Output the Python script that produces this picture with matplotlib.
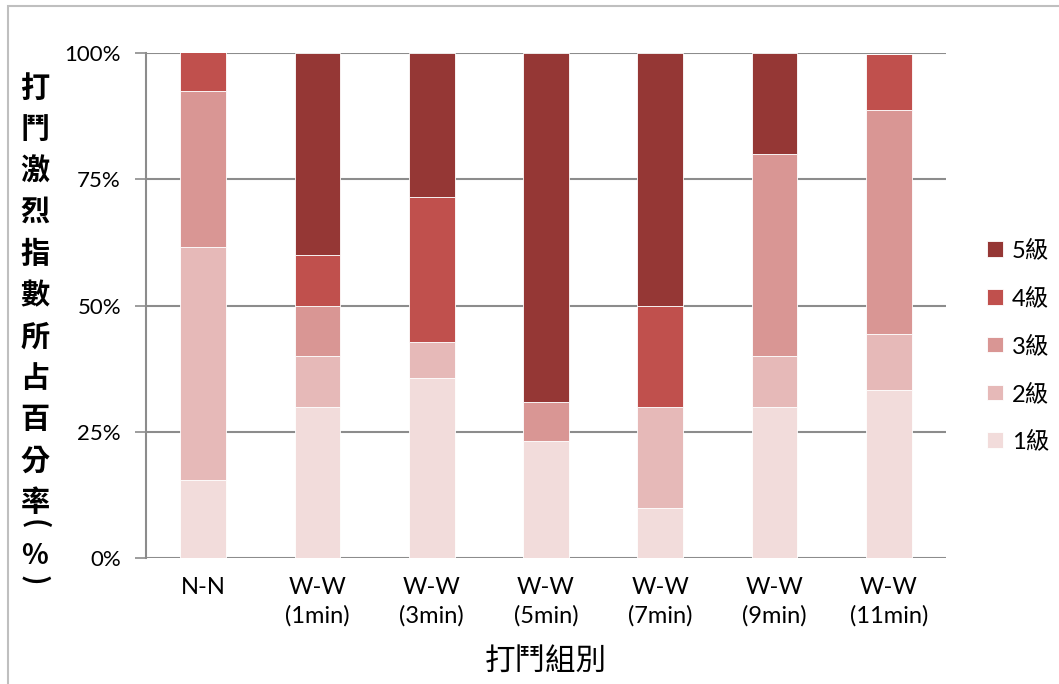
import matplotlib.pyplot as plt
import numpy as np
from matplotlib.patches import Rectangle

plt.rcParams['font.family'] = ['Lato', 'Noto Sans CJK TC', 'DejaVu Sans']

# 打鬥組別 / 各級百分比
groups = ["N-N", "W-W\n(1min)", "W-W\n(3min)", "W-W\n(5min)", "W-W\n(7min)", "W-W\n(9min)", "W-W\n(11min)"]
level1 = [15.4, 30.0, 35.7, 23.1, 10.0, 30.0, 33.3]
level2 = [46.2, 10.0, 7.1, 0.0, 20.0, 10.0, 11.1]
level3 = [30.8, 10.0, 0.0, 7.7, 0.0, 40.0, 44.4]
level4 = [7.7, 10.0, 28.6, 0.0, 20.0, 0.0, 11.1]
level5 = [0.0, 40.0, 28.6, 69.2, 50.0, 20.0, 0.0]
levels = ["1級", "2級", "3級", "4級", "5級"]
colors = ["#F2DCDB", "#E6B9B8", "#D99694", "#C0504D", "#953735"]
yticks = [0, 25, 50, 75, 100]

fig = plt.figure(figsize=(10.59, 6.84), dpi=100)
# chart frame
fig.patches.append(Rectangle((8 / 1059, -0.05), 1.1, 1 - 6 / 684 + 0.05,
                             transform=fig.transFigure, fill=False,
                             edgecolor="#BFBFBF", linewidth=1.5))
ax = fig.add_axes([146 / 1059, 1 - 558 / 684, 800 / 1059, 505 / 684])

x = np.arange(len(groups))
bottom = np.zeros(len(groups))
handles = []
for name, vals, c in zip(levels, [level1, level2, level3, level4, level5], colors):
    b = ax.bar(x, vals, width=0.4, bottom=bottom, color=c, edgecolor="white",
               linewidth=0.6, label=name, zorder=3)
    handles.append(b)
    bottom += np.array(vals)

ax.set_xlim(-0.5, len(groups) - 0.5)
ax.set_ylim(0, 100)
ax.set_yticks(yticks)
ax.set_yticklabels([f"{t}%" for t in yticks], fontsize=16)
ax.yaxis.grid(True, color="#8C8C8C", linewidth=1.5, zorder=0)
ax.set_axisbelow(True)
ax.set_xticks(x)
ax.set_xticklabels(groups, fontsize=17, linespacing=1.35)
ax.tick_params(axis="x", length=0, pad=14)
ax.tick_params(axis="y", length=8, color="#8C8C8C", width=1.2, pad=10)
for s in ["top", "right", "bottom"]:
    ax.spines[s].set_visible(False)
ax.spines["left"].set_color("#8C8C8C")
ax.spines["left"].set_linewidth(1.5)

ax.set_xlabel("打鬥組別", fontsize=22, family=["Noto Sans CJK TC"], labelpad=14)

# vertical y label: one character per line, then a sideways (%) below
lab_x = 35 / 1059
ypix = 88
for ch in "打鬥激烈指數所占百分率":
    fig.text(lab_x, 1 - ypix / 684, ch, fontsize=21, fontweight="bold",
             family=["Noto Sans CJK TC"], ha="center", va="center")
    ypix += 41.4
tail = [("(", 524, -90), ("%", 556, 0), (")", 580, -90)]
for ch, yp, rot in tail:
    fig.text(lab_x, 1 - yp / 684, ch, fontsize=20, fontweight="bold",
             family=["Noto Sans CJK TC"], ha="center", va="center", rotation=rot)

leg = ax.legend(handles[::-1], levels[::-1], loc="center left",
                bbox_to_anchor=(1.025, 0.42), frameon=False, fontsize=17,
                handlelength=0.65, handleheight=0.65, labelspacing=1.1,
                handletextpad=0.4)

fig.savefig("out.png", dpi=100)
